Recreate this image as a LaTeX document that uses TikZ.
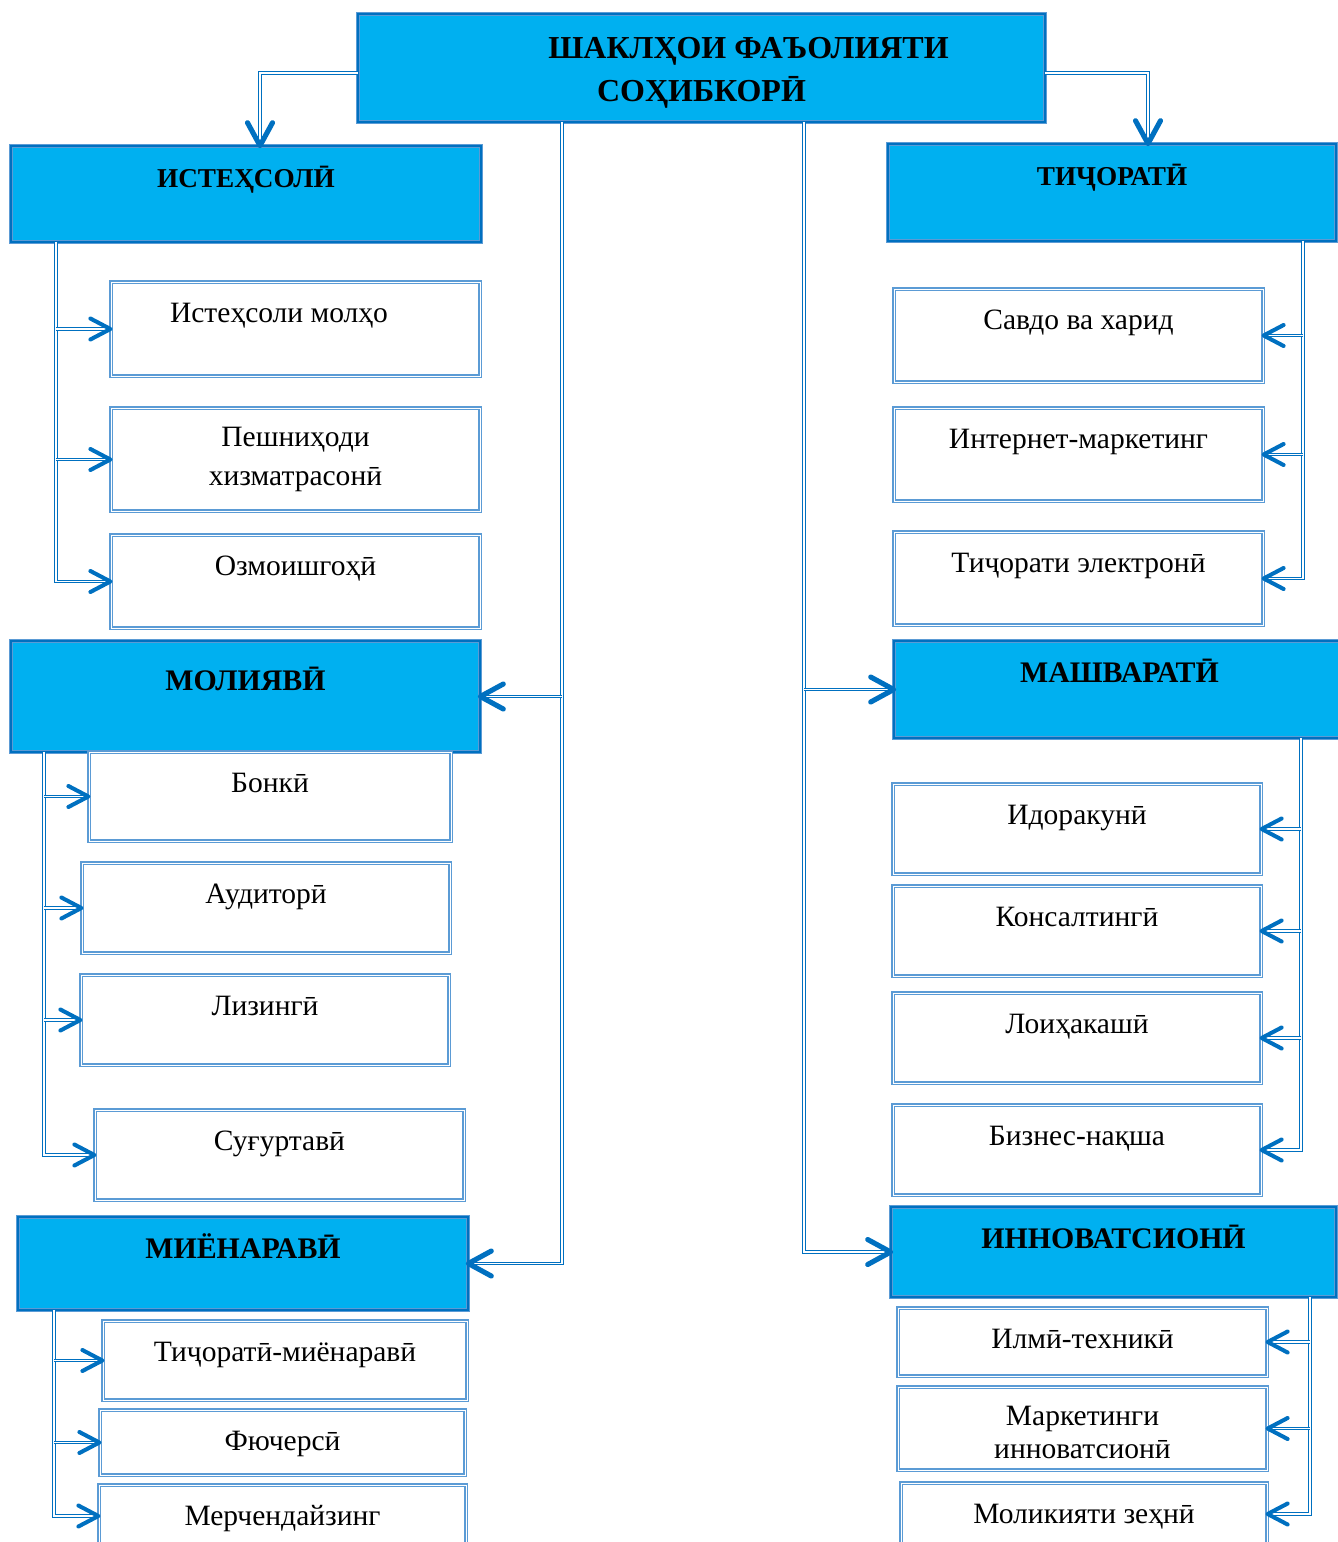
\documentclass[tikz,border=0pt]{standalone}
\usepackage{fontspec}
\setmainfont{Liberation Serif}
\usetikzlibrary{fit,calc,decorations.markings}

\definecolor{catfill}{HTML}{00B0F0}
\definecolor{catline}{HTML}{0070C0}
\definecolor{leafline}{HTML}{5B9BD5}
\definecolor{lnblue}{HTML}{0070C0}

\tikzset{
	cat/.style = {fill=catfill, draw=leafline, line width=0.35pt,
		double=catline, double distance=1.5pt, inner sep=0pt},
	leaf/.style = {draw=leafline, line width=0.7pt,
		double=white, double distance=0.5pt, inner sep=0pt},
	cattext/.style = {anchor=base, yshift=-0.84cm, inner sep=0pt,
		font=\bfseries\fontsize{17}{20}\selectfont},
	leaftext/.style = {anchor=base, yshift=-0.82cm, inner sep=0pt,
		font=\fontsize{16.8}{20}\selectfont},
	multitext/.style = {align=center, inner sep=0pt},
	link/.style = {draw=lnblue, line width=0.6pt, double=white, double distance=0.7pt},
	bigtip/.style = {postaction={decorate, decoration={markings,
		mark=at position 1 with {\draw[lnblue, line width=2.9pt, line cap=round, line join=round]
			(-0.46cm,0.25cm) -- (0,0) -- (-0.46cm,-0.25cm);}}}},
	smalltip/.style = {postaction={decorate, decoration={markings,
		mark=at position 1 with {\draw[lnblue, line width=2.3pt, line cap=round, line join=round]
			(-0.4cm,0.21cm) -- (0,0) -- (-0.4cm,-0.21cm);}}}},
}

\begin{document}
\begin{tikzpicture}[x=0.02cm, y=-0.02cm]
	\useasboundingbox (0,0) rectangle (1338,1542);
	\clip (0,0) rectangle (1338,1542);

	% title
	\node[cat, fit={(358,14) (1045,122)}] (title) {};
	\node[multitext, font=\bfseries\fontsize{18.2}{24.4}\selectfont] (titletxt)
		at ($(title.center)+(0,5)$) {\hspace*{1.88cm}ШАКЛҲОИ ФАЪОЛИЯТИ\\СОҲИБКОРӢ};

	% groups
	\node[cat, fit={(11,146) (481,242)},
		label={[cattext, font=\bfseries\fontsize{15.5}{18}\selectfont]north:ИСТЕҲСОЛӢ}] (ist) {};
	\node[cat, fit={(888,144) (1336,241)},
		label={[cattext, font=\bfseries\fontsize{15.5}{18}\selectfont]north:ТИҶОРАТӢ}] (tij) {};
	\node[cat, fit={(11,641) (480,752)}, label={[cattext, yshift=-0.16cm]north:МОЛИЯВӢ}] (mol) {};
	\node[cat, fit={(894,641) (1345,738)}, label={[cattext]north:МАШВАРАТӢ}] (mash) {};
	\node[cat, fit={(18,1217) (468,1310)}, label={[cattext]north:МИЁНАРАВӢ}] (miy) {};
	\node[cat, fit={(891,1207) (1336,1297)}, label={[cattext]north:ИННОВАТСИОНӢ}] (inn) {};

	% left column
	\node[leaf, fit={(111,282) (480,376)},
		label={[leaftext, xshift=-0.33cm]north:Истеҳсоли молҳо}] (ist1) {};
	\node[leaf, fit={(111,408) (480,511)}] (ist2) {};
	\node[multitext, font=\fontsize{16.8}{22.7}\selectfont] (ist2txt)
		at (ist2.center) {Пешниҳоди\\хизматрасонӣ};
	\node[leaf, fit={(111,535) (480,628)}, label={[leaftext]north:Озмоишгоҳӣ}] (ist3) {};

	\node[leaf, fit={(89,752) (451,841)}, label={[leaftext]north:Бонкӣ}] (mol1) {};
	\node[leaf, fit={(82,863) (450,953)}, label={[leaftext]north:Аудиторӣ}] (mol2) {};
	\node[leaf, fit={(81,975) (449,1065)}, label={[leaftext]north:Лизингӣ}] (mol3) {};
	\node[leaf, fit={(95,1110) (464,1200)}, label={[leaftext]north:Суғуртавӣ}] (mol4) {};

	\node[leaf, fit={(103,1321) (467,1400)}, label={[leaftext]north:Тиҷоратӣ-миёнаравӣ}] (miy1) {};
	\node[leaf, fit={(100,1410) (465,1475)}, label={[leaftext]north:Фючерсӣ}] (miy2) {};
	\node[leaf, fit={(99,1485) (466,1547)}, label={[leaftext]north:Мерчендайзинг}] (miy3) {};

	% right column
	\node[leaf, fit={(894,289) (1263,382)}, label={[leaftext]north:Савдо ва харид}] (tij1) {};
	\node[leaf, fit={(894,408) (1263,501)}, label={[leaftext]north:Интернет-маркетинг}] (tij2) {};
	\node[leaf, fit={(894,532) (1263,625)}, label={[leaftext]north:Тиҷорати электронӣ}] (tij3) {};

	\node[leaf, fit={(893,784) (1261,874)}, label={[leaftext]north:Идоракунӣ}] (mash1) {};
	\node[leaf, fit={(893,886) (1261,976)}, label={[leaftext]north:Консалтингӣ}] (mash2) {};
	\node[leaf, fit={(893,993) (1261,1083)}, label={[leaftext]north:Лоиҳакашӣ}] (mash3) {};
	\node[leaf, fit={(893,1105) (1261,1195)}, label={[leaftext]north:Бизнес-нақша}] (mash4) {};

	\node[leaf, fit={(898,1308) (1267,1376)}, label={[leaftext]north:Илмӣ-техникӣ}] (inn1) {};
	\node[leaf, fit={(898,1387) (1267,1470)}] (inn2) {};
	\node[multitext, font=\fontsize{16.8}{19.3}\selectfont] (inn2txt)
		at ($(inn2.center)+(0,4)$) {Маркетинги\\инноватсионӣ};
	\node[leaf, fit={(901,1483) (1267,1545)}, label={[leaftext]north:Моликияти зеҳнӣ}] (inn3) {};

	% title to groups
	\draw[link, bigtip] ($(title.west)+(0,5)$) -| ($(ist.north)+(14,0)$);
	\draw[link, bigtip] ($(title.east)+(0,5)$) -| ($(tij.north)+(36,0)$);
	\coordinate (ltop) at (562,122);
	\coordinate (rtop) at (804,122);
	\draw[link, bigtip] (ltop) |- (miy.east);
	\draw[link, bigtip] (ltop |- mol.east) -- (mol.east);
	\draw[link, bigtip] (rtop) |- (inn.west);
	\draw[link, bigtip] (rtop |- mash.west) -- (mash.west);

	% groups to items
	\coordinate (istbus) at (56,242);
	\draw[link, smalltip] (istbus) |- (ist3.west);
	\foreach \n in {ist1,ist2}
		\draw[link, smalltip] (istbus |- \n.west) -- (\n.west);

	\coordinate (molbus) at (44,752);
	\draw[link, smalltip] (molbus) |- (mol4.west);
	\foreach \n in {mol1,mol2,mol3}
		\draw[link, smalltip] (molbus |- \n.west) -- (\n.west);

	\coordinate (miybus) at (54,1310);
	\draw[link, smalltip] (miybus) |- (miy3.west);
	\foreach \n in {miy1,miy2}
		\draw[link, smalltip] (miybus |- \n.west) -- (\n.west);

	\coordinate (tijbus) at (1303,241);
	\draw[link, smalltip] (tijbus) |- (tij3.east);
	\foreach \n in {tij1,tij2}
		\draw[link, smalltip] (tijbus |- \n.east) -- (\n.east);

	\coordinate (mashbus) at (1301,738);
	\draw[link, smalltip] (mashbus) |- (mash4.east);
	\foreach \n in {mash1,mash2,mash3}
		\draw[link, smalltip] (mashbus |- \n.east) -- (\n.east);

	\coordinate (innbus) at (1310,1297);
	\draw[link, smalltip] (innbus) |- (inn3.east);
	\foreach \n in {inn1,inn2}
		\draw[link, smalltip] (innbus |- \n.east) -- (\n.east);
\end{tikzpicture}
\end{document}
